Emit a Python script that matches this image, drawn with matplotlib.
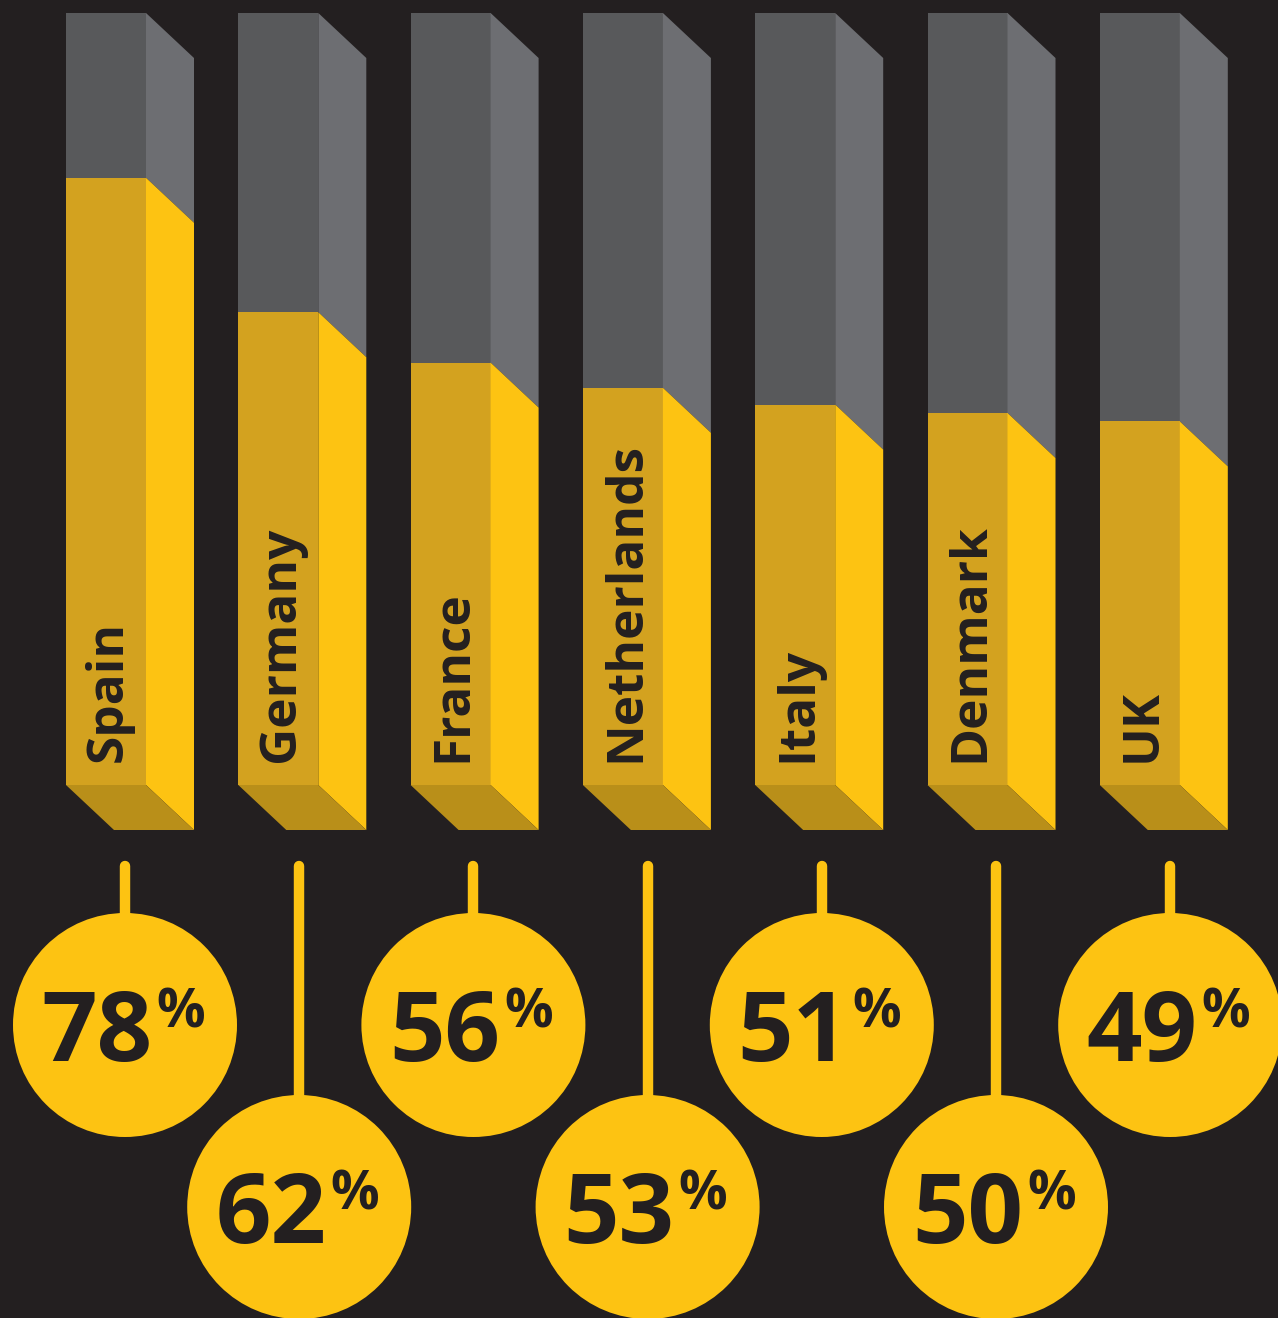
import matplotlib.pyplot as plt
from matplotlib.patches import Polygon, Circle, Rectangle

# data
countries = ['Spain', 'Germany', 'France', 'Netherlands', 'Italy', 'Denmark', 'UK']
values = [78, 62, 56, 53, 51, 50, 49]

# colours
bg = '#231f20'
gray_front = '#58595b'
gray_side = '#6d6e72'
yel_front = '#d3a21f'
yel_side = '#fdc312'
yel_bottom = '#b98f19'
dark = '#231f20'

W, H = 1278, 1318
fig = plt.figure(figsize=(W / 100, H / 100), dpi=100)
fig.patch.set_facecolor(bg)
ax = fig.add_axes([0, 0, 1, 1])
ax.set_xlim(0, W)
ax.set_ylim(H, 0)
ax.axis('off')

font = ['Open Sans', 'DejaVu Sans']

left0, step = 66, 172.3
fw, dx, dy = 80, 48, 45          # front width, side depth offsets
top, base = 13, 785              # top of bars, bottom of front face
zero_y, px_per_pct = 833, 8.4    # value scale of the yellow fill

circ_x0, circ_step = 125, 174.2

for i, (name, v) in enumerate(zip(countries, values)):
    x0 = left0 + i * step
    x1 = x0 + fw
    ytop = zero_y - px_per_pct * v

    # grey (remaining) part
    ax.add_patch(Rectangle((x0, top), fw, ytop - top, color=gray_front, lw=0))
    ax.add_patch(Polygon([(x1, top), (x1 + dx, top + dy), (x1 + dx, ytop + dy), (x1, ytop)],
                         closed=True, color=gray_side, lw=0))
    # yellow part
    ax.add_patch(Rectangle((x0, ytop), fw, base - ytop, color=yel_front, lw=0))
    ax.add_patch(Polygon([(x1, ytop), (x1 + dx, ytop + dy), (x1 + dx, base + dy), (x1, base)],
                         closed=True, color=yel_side, lw=0))
    ax.add_patch(Polygon([(x0, base), (x1, base), (x1 + dx, base + dy), (x0 + dx, base + dy)],
                         closed=True, color=yel_bottom, lw=0))

    # country label
    ax.text(x0 + 56, 762, name, rotation=90, rotation_mode='anchor',
            ha='left', va='baseline', fontsize=37, fontweight='bold',
            color=dark, family=font)

    # stem + circle
    cx = circ_x0 + i * circ_step
    cy = 1025 if i % 2 == 0 else 1207
    r = 112
    ax.plot([cx, cx], [866, cy - r + 5], color=yel_side, lw=7.5,
            solid_capstyle='round', zorder=2)
    ax.add_patch(Circle((cx, cy), r, color=yel_side, lw=0, zorder=3))
    ax.text(cx + 27, cy + 36, str(v), ha='right', va='baseline',
            fontsize=70, fontweight='bold', color=dark, family=font, zorder=4)
    ax.text(cx + 31, cy - 38, '%', ha='left', va='top',
            fontsize=39, fontweight='bold', color=dark, family=font, zorder=4)

fig.savefig('out.png', dpi=100, facecolor=bg)
